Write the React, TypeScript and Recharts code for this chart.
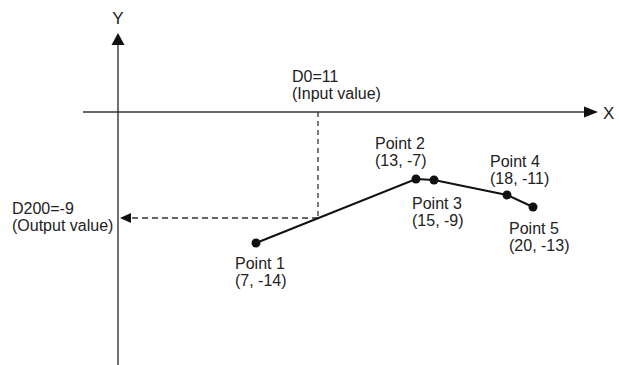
import React from 'react'
import { LineChart, Line, XAxis, YAxis, ReferenceLine, ReferenceDot } from 'recharts'

// point labels as printed in the figure
const pointNames = ['Point 1', 'Point 2', 'Point 3', 'Point 4', 'Point 5']
const pointCoords = ['(7, -14)', '(13, -7)', '(15, -9)', '(18, -11)', '(20, -13)']
// positions as drawn (the figure is schematic, not to scale)
const xPos = [6.9, 14.9, 15.8, 19.45, 20.75]
const yPos = [-13.1, -6.7, -6.8, -8.3, -9.5]

const inputX = 10
const outputY = -10.6
const inputLabel = ['D0=11', '(Input value)']
const outputLabel = ['D200=-9', '(Output value)']

// label placement relative to each point, in px
const labelOffsets = [
  [-21, 20],
  [-41, -36],
  [-22, 23],
  [-17, -34],
  [-24, 21],
]

const INK = '#222'
const FONT = '"Liberation Sans", Arial, sans-serif'
const FS = 16
const LINE_GAP = 17.5

const data = xPos.map((x, i) => ({ x, y: yPos[i] }))

const TwoLines = ({ x, y, lines }: { x: number; y: number; lines: string[] }) => (
  <text fontFamily={FONT} fontSize={FS} fill={INK}>
    {lines.map((t, i) => (
      <tspan key={i} x={x} y={y + i * LINE_GAP} dominantBaseline="central">
        {t}
      </tspan>
    ))}
  </text>
)

const renderDot = (props: any) => {
  const { cx, cy, index } = props
  const [dx, dy] = labelOffsets[index]
  return (
    <g key={`dot-${index}`}>
      <circle cx={cx} cy={cy} r={4.5} fill="#111" />
      <TwoLines x={cx + dx} y={cy + dy} lines={[pointNames[index], pointCoords[index]]} />
    </g>
  )
}

const App = () => {
  return (
    <div style={{ position: 'absolute', left: 0, top: 0, width: 619, height: 365, background: '#fff' }}>
      <LineChart width={619} height={365} data={data} margin={{ top: 0, right: 0, bottom: 0, left: 0 }}>
        <XAxis dataKey="x" type="number" domain={[-5.9, 25.05]} hide allowDataOverflow />
        <YAxis type="number" domain={[-25.3, 11.2]} hide allowDataOverflow />

        {/* axes */}
        <ReferenceLine segment={[{ x: -1.75, y: 0 }, { x: 23.3, y: 0 }]} stroke="#333" strokeWidth={1.4} />
        <ReferenceLine segment={[{ x: 0, y: 7.3 }, { x: 0, y: -25.3 }]} stroke="#333" strokeWidth={1.4} />
        <ReferenceDot
          x={24}
          y={0}
          shape={(p: any) => (
            <polygon points={`${p.cx},${p.cy} ${p.cx - 14},${p.cy - 5.5} ${p.cx - 14},${p.cy + 5.5}`} fill="#111" />
          )}
        />
        <ReferenceDot
          x={0}
          y={7.9}
          shape={(p: any) => (
            <polygon points={`${p.cx},${p.cy} ${p.cx - 6.5},${p.cy + 12} ${p.cx + 6.5},${p.cy + 12}`} fill="#111" />
          )}
        />
        <ReferenceDot
          x={24}
          y={0}
          shape={(p: any) => (
            <text x={p.cx + 5} y={p.cy + 1} fontFamily={FONT} fontSize={FS + 1} fill={INK} dominantBaseline="central">
              X
            </text>
          )}
        />
        <ReferenceDot
          x={0}
          y={7.9}
          shape={(p: any) => (
            <text x={p.cx} y={p.cy - 15} fontFamily={FONT} fontSize={FS + 1} fill={INK} textAnchor="middle" dominantBaseline="central">
              Y
            </text>
          )}
        />

        {/* input / output guides */}
        <ReferenceLine
          segment={[{ x: inputX, y: 0 }, { x: inputX, y: outputY }]}
          stroke="#333"
          strokeWidth={1.3}
          strokeDasharray="5 4"
        />
        <ReferenceLine
          segment={[{ x: inputX, y: outputY }, { x: 0.6, y: outputY }]}
          stroke="#333"
          strokeWidth={1.3}
          strokeDasharray="6 4"
        />
        <ReferenceDot
          x={0.1}
          y={outputY}
          shape={(p: any) => (
            <polygon points={`${p.cx},${p.cy} ${p.cx + 11},${p.cy - 5} ${p.cx + 11},${p.cy + 5}`} fill="#111" />
          )}
        />
        <ReferenceDot
          x={inputX}
          y={0}
          shape={(p: any) => <TwoLines x={p.cx - 26} y={p.cy - 36} lines={inputLabel} />}
        />
        <ReferenceDot
          x={0}
          y={outputY}
          shape={(p: any) => <TwoLines x={p.cx - 106} y={p.cy - 10} lines={outputLabel} />}
        />

        <Line
          dataKey="y"
          type="linear"
          stroke="#111"
          strokeWidth={2}
          dot={renderDot}
          activeDot={false}
          isAnimationActive={false}
        />
      </LineChart>
    </div>
  )
}

export default App
